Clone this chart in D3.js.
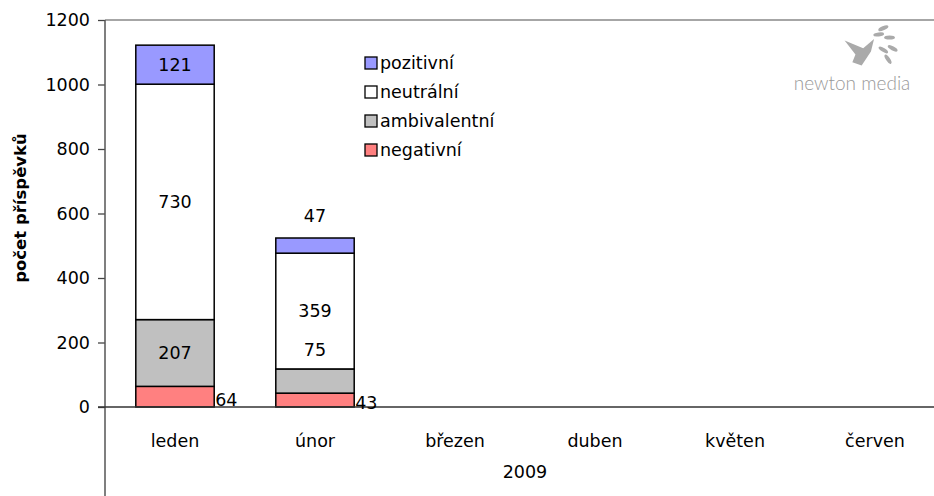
<!DOCTYPE html>
<html>
<head>
<meta charset="utf-8">
<script src="https://cdn.jsdelivr.net/npm/d3@7"></script>
<style>
    body { margin: 0; background: #fff; }
    svg { display: block; font-family: "DejaVu Sans", Verdana, sans-serif; }
</style>
</head>
<body>
<svg id="chart" width="934" height="496"></svg>
<script>
/*------------------- data --------------------*/
const months = ["leden", "únor", "březen", "duben", "květen", "červen"];
const yearLabel = "2009";
const seriesNames = ["negativní", "ambivalentní", "neutrální", "pozitivní"];
const negativni = [64, 43, null, null, null, null];
const ambivalentni = [207, 75, null, null, null, null];
const neutralni = [730, 359, null, null, null, null];
const pozitivni = [121, 47, null, null, null, null];
const yTicks = [0, 200, 400, 600, 800, 1000, 1200];

const seriesColors = ["#FF8080", "#C0C0C0", "#FFFFFF", "#9999FF"];

/*------------------- layout --------------------*/
const plotLeft = 105, plotTop = 20, plotBottom = 407, bandRight = 945;
const fs = 17.5;

const svg = d3.select("#chart");

const x = d3.scaleBand()
    .domain(months)
    .range([plotLeft, bandRight])
    .paddingInner(0.44)
    .paddingOuter(0.22);

const y = d3.scaleLinear()
    .domain([0, 1200])
    .range([plotBottom, plotTop]);

// rows for the stack
let rows = months.map((m, i) => ({
    month: m,
    "negativní": negativni[i] || 0,
    "ambivalentní": ambivalentni[i] || 0,
    "neutrální": neutralni[i] || 0,
    "pozitivní": pozitivni[i] || 0,
    has: negativni[i] != null
}));

let stacked = d3.stack().keys(seriesNames)(rows);

// top frame line
svg.append("line")
    .attr("x1", plotLeft).attr("x2", 934)
    .attr("y1", plotTop).attr("y2", plotTop)
    .attr("stroke", "#888").attr("stroke-width", 1.5);

// y axis
let yAxis = svg.append("g")
    .attr("transform", "translate(" + plotLeft + ",0)")
    .call(d3.axisLeft(y).tickValues(yTicks).tickFormat(d3.format("d")).tickSize(7).tickPadding(8));
yAxis.select(".domain").remove();
yAxis.selectAll("line").attr("stroke", "#444").attr("stroke-width", 1.3);
yAxis.selectAll("text").attr("font-size", fs).attr("fill", "#000")
    .attr("font-family", "DejaVu Sans, Verdana, sans-serif");

svg.append("line")
    .attr("x1", plotLeft).attr("x2", plotLeft)
    .attr("y1", plotTop).attr("y2", 496)
    .attr("stroke", "#555").attr("stroke-width", 1.5);

// bars
svg.selectAll("g.series")
    .data(stacked)
    .enter()
    .append("g")
    .attr("class", "series")
    .attr("fill", (d, i) => seriesColors[i])
    .selectAll("rect")
    .data(d => d.filter(v => v.data.has))
    .enter()
    .append("rect")
    .attr("x", d => x(d.data.month))
    .attr("width", x.bandwidth())
    .attr("y", d => y(d[1]))
    .attr("height", d => y(d[0]) - y(d[1]))
    .attr("stroke", "#000")
    .attr("stroke-width", 1.5);

// x axis line
svg.append("line")
    .attr("x1", plotLeft - 7).attr("x2", 934)
    .attr("y1", plotBottom).attr("y2", plotBottom)
    .attr("stroke", "#333").attr("stroke-width", 1.5);

// category labels
svg.selectAll("text.month")
    .data(months)
    .enter()
    .append("text")
    .attr("class", "month")
    .attr("x", d => x(d) + x.bandwidth() / 2)
    .attr("y", 447)
    .attr("text-anchor", "middle")
    .attr("font-size", fs)
    .text(d => d);

svg.append("text")
    .attr("x", (plotLeft + bandRight) / 2)
    .attr("y", 478)
    .attr("text-anchor", "middle")
    .attr("font-size", fs)
    .text(yearLabel);

// value labels, placed the way the original sheet did
let labels = [];
stacked.forEach((s, si) => {
    s.forEach((d, mi) => {
        if (!d.data.has) return;
        let v = d[1] - d[0];
        let cx = x(d.data.month) + x.bandwidth() / 2;
        let cy = y((d[0] + d[1]) / 2);
        let anchor = "middle";
        if (si === 0) {
            // negative: right of the bar, near the baseline
            cx = x(d.data.month) + x.bandwidth() + 1;
            cy = y(d[1] / 2) + 3;
            anchor = "start";
        } else if (si === 1 && mi === 1) {
            // ambivalent too thin: label pushed up
            cy = y(d[1] + 60);
        } else if (si === 3 && mi === 1) {
            // positive too thin: above the bar
            cy = y(d[1]) - 22;
        }
        labels.push({ v: v, x: cx, y: cy, anchor: anchor });
    });
});

svg.selectAll("text.val")
    .data(labels)
    .enter()
    .append("text")
    .attr("class", "val")
    .attr("x", d => d.x)
    .attr("y", d => d.y)
    .attr("dy", "0.35em")
    .attr("text-anchor", d => d.anchor)
    .attr("font-size", fs)
    .text(d => d.v);

// y axis title
svg.append("text")
    .attr("transform", "translate(26," + 208 + ") rotate(-90)")
    .attr("text-anchor", "middle")
    .attr("font-size", 16.5)
    .attr("font-weight", "bold")
    .text("počet příspěvků");

// legend
let legendOrder = seriesNames.map((n, i) => ({ name: n, color: seriesColors[i] })).reverse();
let legend = svg.append("g").attr("transform", "translate(365,63)");
let item = legend.selectAll("g")
    .data(legendOrder)
    .enter()
    .append("g")
    .attr("transform", (d, i) => "translate(0," + (i * 29) + ")");
item.append("rect")
    .attr("x", 0).attr("y", -6)
    .attr("width", 12).attr("height", 12)
    .attr("fill", d => d.color)
    .attr("stroke", "#000").attr("stroke-width", 1.3);
item.append("text")
    .attr("x", 15).attr("y", 0)
    .attr("dy", "0.35em")
    .attr("font-size", fs)
    .text(d => d.name);

// logo
let logo = svg.append("g").attr("transform", "translate(818,34)");
let bird = logo.append("g").attr("transform", "translate(8,-12) scale(1.55)").attr("fill", "#aaa");
bird.append("path")
    .attr("d", "M12 12 L24 17 L31 11 L29 19 L23 28 L17 26 L19 21 Z");
[[37, 4], [41, 10], [43, 17], [40, 24], [34, 8], [37, 18]].forEach(p => {
    bird.append("ellipse")
        .attr("cx", p[0]).attr("cy", p[1])
        .attr("rx", 3.5).attr("ry", 1.3)
        .attr("transform", "rotate(" + (-40 + p[1] * 4) + "," + p[0] + "," + p[1] + ")");
});
logo.append("text")
    .attr("x", 34).attr("y", 56)
    .attr("text-anchor", "middle")
    .attr("font-size", 19)
    .attr("font-weight", 300)
    .attr("font-family", "Lato, sans-serif")
    .attr("fill", "#999")
    .text("newton media");
</script>
</body>
</html>
